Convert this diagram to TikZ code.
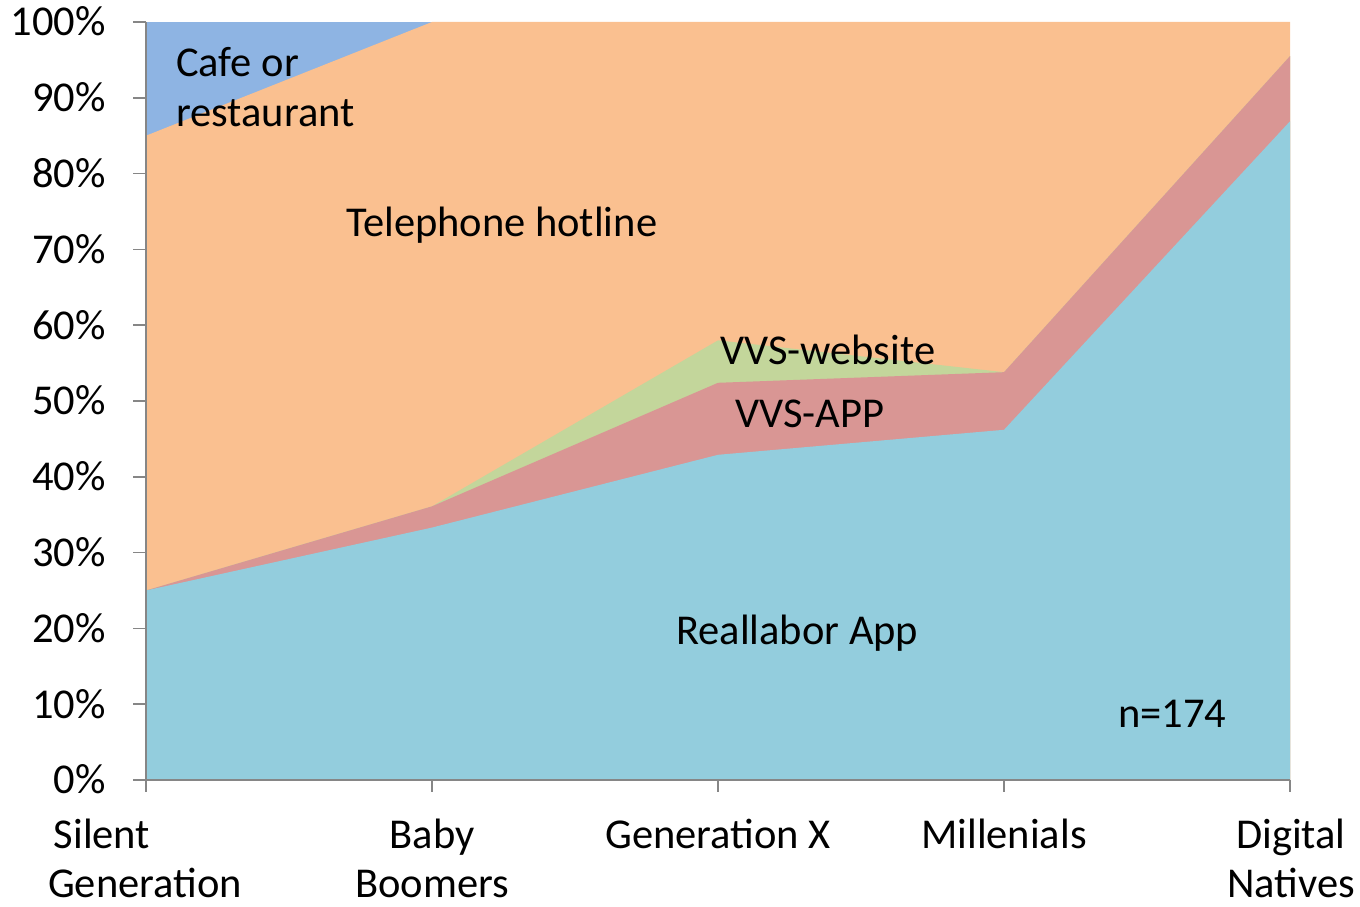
\documentclass[tikz,border=0pt]{standalone}
\usepackage{fontspec}
\setmainfont{Carlito}
\definecolor{cReal}{HTML}{93CDDD}
\definecolor{cApp}{HTML}{D99694}
\definecolor{cWeb}{HTML}{C3D69B}
\definecolor{cTel}{HTML}{FAC090}
\definecolor{cCafe}{HTML}{8EB4E3}
\definecolor{cAxis}{HTML}{868686}
\begin{document}
\begin{tikzpicture}[x=1pt,y=1pt,
  lbl/.style={font=\fontsize{42.5}{50}\selectfont, inner sep=0pt},
  axisline/.style={draw=cAxis, line width=1.5pt},
  ticklbl/.style={lbl, anchor=base east},
  catlbl/.style={lbl, anchor=base},
  arealbl/.style={lbl, anchor=base west}]
\useasboundingbox (0,0) rectangle (1360,907);

% stacked areas: category step 286pt, 1% = 7.58pt, origin at (146,127)
\begin{scope}[shift={(146,127)}, x=286pt, y=7.58pt]
  \fill[cCafe] (0,0) rectangle (4,100);
  \fill[cTel] (0,0) -- (0,85) -- (1,100) -- (2,100) -- (3,100) -- (4,100) -- (4,0) -- cycle;
  \fill[cWeb] (0,0) -- (0,25) -- (1,36.1) -- (2,58.0) -- (3,53.8) -- (4,95.5) -- (4,0) -- cycle;
  \fill[cApp] (0,0) -- (0,25) -- (1,36.1) -- (2,52.4) -- (3,53.8) -- (4,95.5) -- (4,0) -- cycle;
  \fill[cReal] (0,0) -- (0,25) -- (1,33.3) -- (2,42.9) -- (3,46.2) -- (4,86.9) -- (4,0) -- cycle;

  % axes
  \coordinate (o) at (0,0);
  \coordinate (top) at (0,100);
  \coordinate (xend) at (4,0);
  \draw[axisline] (top) -- (o) -- (xend);
  \foreach \p in {0,10,...,100} {
    \draw[axisline] (0,\p) -- ++(-13pt,0);
    \node[ticklbl] (t\p) at ([xshift=-40pt,yshift=-14pt]0,\p) {\p\%};
  }
  \foreach \c in {0,...,4} {
    \draw[axisline] (\c,0) -- ++(0,-12pt);
  }
\end{scope}

% category labels
\node[catlbl] (c0a) at (102,58) {Silent};
\node[catlbl] (c0b) at (145,9) {Generation};
\node[catlbl] (c1a) at (432,58) {Baby};
\node[catlbl] (c1b) at (432,9) {Boomers};
\node[catlbl] (c2) at (718,58) {Generation X};
\node[catlbl] (c3) at (1004,58) {Millenials};
\node[catlbl] (c4a) at (1291,58) {Digital};
\node[catlbl] (c4b) at (1291,9) {Natives};

% series labels
\node[arealbl] (lcafe1) at (176,830) {Cafe or};
\node[arealbl] (lcafe2) at (176,780) {restaurant};
\node[arealbl] (ltel) at (346,670) {Telephone hotline};
\node[arealbl] (lweb) at (720,542) {VVS-website};
\node[arealbl] (lapp) at (735,479) {VVS-APP};
\node[arealbl] (lreal) at (676,262) {Reallabor App};
\node[arealbl] (ln) at (1118,179) {n=174};
\end{tikzpicture}
\end{document}
